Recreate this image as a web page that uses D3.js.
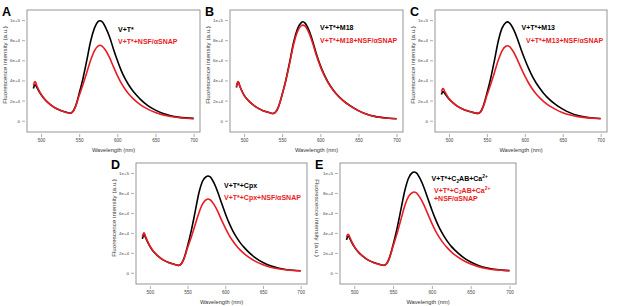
<!DOCTYPE html>
<html><head><meta charset="utf-8">
<script src="https://cdn.jsdelivr.net/npm/d3@7"></script>
<style>body{margin:0;background:#fff}svg{display:block}</style>
</head><body><svg id="c" width="617" height="306"></svg>
<script>
// ---------- DATA ----------
const wavelengths = [490,491,492,493,494,496,500,505,510,515,520,525,530,535,538,541,545,550,555,560,565,570,575,577,580,585,590,595,600,605,610,615,620,625,630,640,650,660,670,680,690,700];
const xTickValues = [500,550,600,650,700];
const yTickValues = [0,20,40,60,80,100];          // intensity in thousands (a.u.)
const yTickLabels = ["0","2e+4","4e+4","6e+4","8e+4","1e+5"];
const panelLetters = ["A","B","C","D","E"];

// intensity, thousands of a.u.
const blackA = [32,34.5,35.8,35.2,33.8,31,26,21,17.5,14.5,12.2,10.5,9.2,8,7.5,8.5,14,27,42,60,79,92,98.6,99.3,98.4,92,83,71,60,50,42,35.5,30,25.5,21.5,15,10.5,7.2,5,3.6,2.8,2.3];
const redA   = [35,37.5,38.8,38,35.8,32.2,26.5,21.2,17.5,14.4,12,10.3,9,7.9,7.4,8.3,13.5,25,36,48,60,69.5,74.3,75,74.2,69.5,62.5,53.5,45,37.5,31.5,26.5,22.5,19,16,11.5,8.2,5.8,4.2,3.2,2.5,2.1];
const blackB = [33,36.5,38.5,37.8,35.5,31.5,25.5,20.5,17,14,11.8,10,8.8,7.6,7.2,8.2,13.5,26,41,59,78,91,97.5,98.3,97,90,79,66,55,46,38.5,32.5,27.5,23.5,20,14.5,10,6.8,4.6,3.3,2.5,2];
const redB   = [33.5,37,38.8,38,35.5,31.5,25.5,20.5,17,14,11.8,10,8.8,7.6,7.2,8.2,13.5,26,40.5,57.5,76,88.5,94.5,95,94,87.5,77,64.5,54,45.2,38,32.2,27.3,23.3,19.8,14.3,9.9,6.7,4.5,3.2,2.4,1.9];
const blackC = [26,28,29,28.6,27.5,25.5,21.5,18,15,12.8,11,9.7,8.6,7.6,7.3,8.3,14,27,42,60,79,92,97.5,98.2,97,91,82,71,61,52,44,37.5,32,27,23,16.5,11.5,7.8,5.2,3.6,2.7,2.2];
const redC   = [29,31,32,31.5,29.8,27,22,18.2,15,12.7,10.9,9.6,8.5,7.6,7.3,8.2,13.5,25,36,48,60,69.5,74,74.5,73.5,68.5,61,52.5,44.5,37.5,31.5,26.5,22.5,19,16,11.5,8,5.6,4.1,3.1,2.5,2];
const blackD = [34,36.5,38,37.5,35.8,32.5,26.5,21,17.3,14.3,12,10.3,9,7.9,7.5,8.5,14,27,42.5,61,80,92,96.5,97,96,90,81,70,59.5,50,42,35.5,30,25.5,21.5,15,10.3,7,4.8,3.4,2.6,2.1];
const redD   = [36,38.5,40,39.3,37,33.3,27,21.3,17.4,14.3,12,10.2,8.9,7.8,7.4,8.4,13.5,25,36,48,60,69,73.5,74,73.2,68.5,61.5,53,45,37.8,31.8,26.8,22.7,19.2,16.2,11.5,8,5.6,4,3,2.3,1.9];
const blackE = [33,35.5,36.8,36.3,34.8,31.5,26,21,17.3,14.3,12,10.3,9,7.9,7.6,8.6,14.5,28,44,63,82,95,100.5,101,100,94,85,74,63,53,44.5,37.5,31.5,26.5,22.5,15.8,10.8,7.3,5,3.5,2.7,2.2];
const redE   = [36,37.8,38.6,38,36,32.5,26.5,21.2,17.4,14.3,12,10.2,8.9,7.8,7.5,8.5,14,26.5,39,53,67,76.5,80.5,81,80,75,67.5,58.5,49.5,41.5,35,29.5,25,21,17.8,12.6,8.8,6.2,4.4,3.2,2.5,2];

// legend lines: [text segments], each segment [text, kind]
const legendA = [[["V+T*",""]], [["V+T*+NSF/αSNAP",""]]];
const legendB = [[["V+T*+M18",""]], [["V+T*+M18+NSF/αSNAP",""]]];
const legendC = [[["V+T*+M13",""]], [["V+T*+M13+NSF/αSNAP",""]]];
const legendD = [[["V+T*+Cpx",""]], [["V+T*+Cpx+NSF/αSNAP",""]]];
const legendE = [[["V+T*+C",""],["2","sub"],["AB+Ca",""],["2+","sup"]],
                 [["V+T*+C",""],["2","sub"],["AB+Ca",""],["2+","sup"]],
                 [["+NSF/αSNAP",""]]];
const legendColors = { A:["black","red"], B:["black","red"], C:["black","red"], D:["black","red"], E:["black","red","red"] };

const xTitle = "Wavelength (nm)";
const yTitle = "Fluorescence intensity (a.u.)";

// ---------- LAYOUT ----------
const boxes = { A:[27,200,10,132], B:[230,403,10,132], C:[435,607,10,132], D:[136,307,163,284], E:[340,516,163,284] };
const legendPos = { A:[[118,29],[118,41]], B:[[320,27],[320,40.5]], C:[[521.5,27],[526,40]],
                    D:[[224,185.5],[224,197.5]], E:[[431.5,178.5],[434,190],[434,198.5]] };
const seriesByPanel = { A:[blackA,redA], B:[blackB,redB], C:[blackC,redC], D:[blackD,redD], E:[blackE,redE] };
const legendByPanel = { A:legendA, B:legendB, C:legendC, D:legendD, E:legendE };
const RED = "#ea1b23";
const FONT = "'Liberation Sans', Arial, sans-serif";

const svg = d3.select("#c");

panelLetters.forEach(key => {
  const [L,R,T,B] = boxes[key];
  const x = d3.scaleLinear().domain([481.6,708.4]).range([L,R]);
  const y = d3.scaleLinear().domain([-11.2,110]).range([B,T]);
  const g = svg.append("g");

  // frame
  g.append("rect").attr("x",L).attr("y",T).attr("width",R-L).attr("height",B-T)
    .attr("fill","none").attr("stroke","#8a8a8a").attr("stroke-width",0.9);

  // y axis
  const ya = g.append("g").attr("transform",`translate(${L-2},0)`)
    .call(d3.axisLeft(y).tickValues(yTickValues).tickFormat((d,i)=>yTickLabels[i]).tickSize(3).tickPadding(2));
  ya.select(".domain").remove();
  ya.selectAll("line").attr("stroke","#8a8a8a").attr("stroke-width",0.7);
  ya.selectAll("text").attr("font-size",4.4).attr("font-family",FONT).attr("fill","#444");

  // x axis
  const xa = g.append("g").attr("transform",`translate(0,${B+2})`)
    .call(d3.axisBottom(x).tickValues(xTickValues).tickSize(3).tickPadding(2));
  xa.select(".domain").remove();
  xa.selectAll("line").attr("stroke","#8a8a8a").attr("stroke-width",0.7);
  xa.selectAll("text").attr("font-size",4.6).attr("font-family",FONT).attr("fill","#444");

  // titles
  g.append("text").attr("x",(L+R)/2).attr("y",B+19.5).attr("text-anchor","middle")
    .attr("font-size",5.7).attr("font-family",FONT).attr("fill","#333").text(xTitle);
  const yt = g.append("text").attr("text-anchor","middle").attr("dominant-baseline","central")
    .attr("font-size",6.2).attr("font-family",FONT).attr("fill","#333").text(yTitle);
  if (key === "E") yt.attr("transform",`translate(${L-22.5},${T+55}) rotate(90)`);
  else yt.attr("transform",`translate(${L-22.5},${T+55}) rotate(-90)`);

  // panel letter
  g.append("text").attr("x",L-25).attr("y",T+6).attr("font-size",12.5).attr("font-weight","bold")
    .attr("font-family",FONT).attr("fill","#000").text(key);

  // curves
  const line = d3.line().x((d,i)=>x(wavelengths[i])).y(d=>y(d)).curve(d3.curveMonotoneX);
  const [blk, rd] = seriesByPanel[key];
  g.append("path").datum(blk).attr("d",line).attr("fill","none").attr("stroke","#000").attr("stroke-width",1.6).attr("stroke-linejoin","round");
  g.append("path").datum(rd).attr("d",line).attr("fill","none").attr("stroke",RED).attr("stroke-width",1.6).attr("stroke-linejoin","round");

  // legend
  legendByPanel[key].forEach((segs,li) => {
    const [lx,ly] = legendPos[key][li];
    const t = g.append("text").attr("x",lx).attr("y",ly+2.5).attr("font-size",7).attr("font-weight","bold")
      .attr("font-family",FONT).attr("fill", legendColors[key][li]==="red" ? RED : "#000");
    let shift = 0;
    segs.forEach(([s,kind]) => {
      const target = kind==="sub" ? 1.5 : kind==="sup" ? -3 : 0;
      const ts = t.append("tspan").text(s).attr("dy", target - shift);
      if (kind) ts.attr("font-size",4.8);
      shift = target;
    });
  });
});
</script></body></html>
